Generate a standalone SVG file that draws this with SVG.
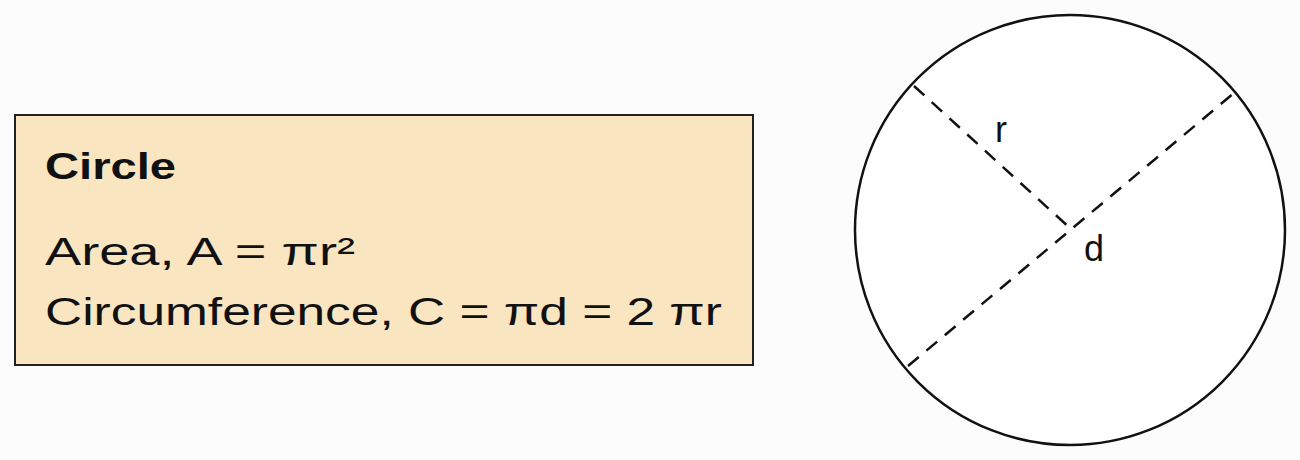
<svg xmlns="http://www.w3.org/2000/svg" width="1300" height="460" viewBox="0 0 1300 460">
<style>
.t{font-family:"Liberation Sans","DejaVu Sans",sans-serif;fill:#111;}
.dash{stroke:#111;stroke-width:2.5;stroke-dasharray:14 10;fill:none;}
</style>
<rect x="0" y="0" width="1300" height="460" fill="#fcfcfc"/>
<g id="formula-box">
<rect x="15" y="115" width="738" height="250" fill="#fae5c1" stroke="#222" stroke-width="2"/>
<text class="t" x="45" y="179" font-size="36" font-weight="bold" textLength="131" lengthAdjust="spacingAndGlyphs">Circle</text>
<text class="t" x="45" y="265" font-size="38" textLength="310" lengthAdjust="spacingAndGlyphs">Area, A = πr²</text>
<text class="t" x="45" y="325" font-size="38" textLength="677" lengthAdjust="spacingAndGlyphs">Circumference, C = πd = 2 πr</text>
</g>
<g id="circle">
<circle cx="1070" cy="230" r="215" fill="#fff" stroke="#111" stroke-width="2.5"/>
</g>
<g id="connectors">
<line class="dash" x1="908" y1="366" x2="1234" y2="93"/>
<line class="dash" x1="914" y1="86" x2="1071" y2="229"/>
</g>
<g id="labels">
<text class="t" x="995" y="142" font-size="36">r</text>
<text class="t" x="1084" y="261" font-size="36">d</text>
</g>
</svg>
